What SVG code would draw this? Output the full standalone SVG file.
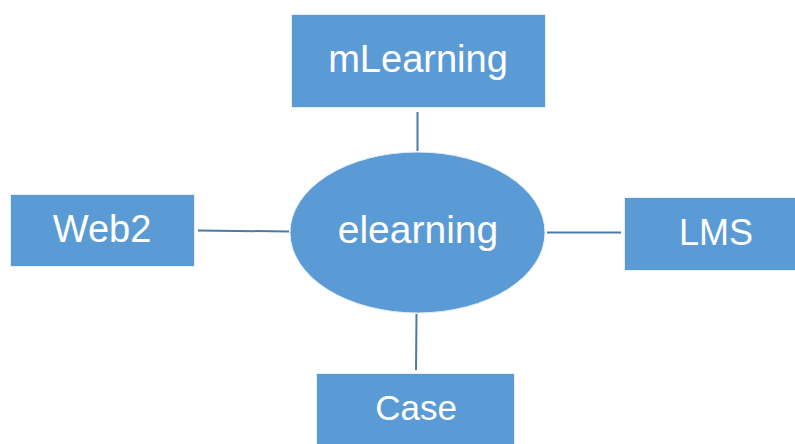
<svg xmlns="http://www.w3.org/2000/svg" width="795" height="444" viewBox="0 0 795 444">
<style>
.box{fill:#5B9BD5;stroke:#E6EEF7;stroke-width:1}
.lbl{fill:#FFFFFF;font-family:"Liberation Sans",Arial,sans-serif;font-size:38px;text-anchor:middle}
.conn{stroke:#4A7BA7;stroke-width:2;fill:none}
</style>
<rect width="795" height="444" fill="#FFFFFF"/>
<g id="connectors">
<line class="conn" x1="417.5" y1="112" x2="417.5" y2="151"/>
<line class="conn" x1="198" y1="230.5" x2="289" y2="231.5"/>
<line class="conn" x1="547" y1="232.5" x2="621" y2="232.5"/>
<line class="conn" x1="416.5" y1="314" x2="416" y2="370"/>
</g>
<g id="mLearning">
<rect class="box" x="291.5" y="14.5" width="254" height="93"/>
<text class="lbl" x="418" y="72">mLearning</text>
</g>
<g id="Web2">
<rect class="box" x="10.5" y="194.5" width="184" height="72"/>
<text class="lbl" x="102" y="242">Web2</text>
</g>
<g id="LMS">
<rect class="box" x="624.5" y="197.5" width="175" height="73"/>
<text class="lbl" x="716" y="245" style="font-size:36px">LMS</text>
</g>
<g id="Case">
<rect class="box" x="316.5" y="373.5" width="198" height="75"/>
<text class="lbl" x="416" y="420" style="font-size:35px">Case</text>
</g>
<g id="elearning">
<ellipse class="box" cx="417.5" cy="232.5" rx="127.5" ry="80.5"/>
<text class="lbl" x="418" y="243" style="font-size:39px">elearning</text>
</g>
</svg>
